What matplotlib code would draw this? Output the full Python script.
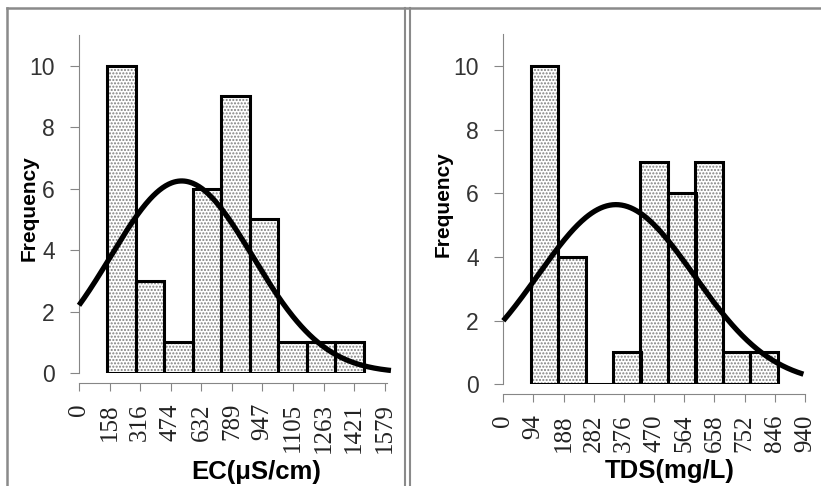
import matplotlib.pyplot as plt
from matplotlib.lines import Line2D
import numpy as np

# EC histogram (bins)
ec_bin_left = [145, 292, 439, 587, 734, 881, 1028, 1175, 1322]
ec_bin_width = 147
ec_counts = [10, 3, 1, 6, 9, 5, 1, 1, 1]
ec_ticks = [0, 158, 316, 474, 632, 789, 947, 1105, 1263, 1421, 1579]
# fitted normal curve: mean, sd, peak height
ec_mean, ec_sd, ec_peak = 530, 367, 6.25

# TDS histogram
tds_bin_left = [85, 171, 256, 342, 427, 513, 598, 684, 770]
tds_bin_width = 86
tds_counts = [10, 4, 0, 1, 7, 6, 7, 1, 1]
tds_ticks = [0, 94, 188, 282, 376, 470, 564, 658, 752, 846, 940]
tds_mean, tds_sd, tds_peak = 351, 243.5, 5.65

W, H = 821, 486
plt.rcParams['hatch.linewidth'] = 1.0
grey = '#868686'

fig = plt.figure(figsize=(W / 100, H / 100), dpi=100)


def panel(rect, left, width, counts, ticks, xmax, mean, sd, peak, xlab, xlab_pos, ylab_pos, curve_end):
    ax = fig.add_axes([rect[0] / W, 1 - rect[3] / H, (rect[2] - rect[0]) / W, (rect[3] - rect[1]) / H])
    # spines first: set_position resets the ticks
    ax.spines['top'].set_visible(False)
    ax.spines['right'].set_visible(False)
    ax.spines['left'].set_color(grey)
    ax.spines['bottom'].set_color(grey)
    ax.spines['bottom'].set_position(('outward', 7.2))
    # dotted fill first, then black outlines on top
    ax.bar(left, counts, width=width, align='edge', color='white', edgecolor='#808080',
           hatch='.....', linewidth=0, zorder=2)
    ax.bar(left, counts, width=width, align='edge', fill=False, edgecolor='black',
           linewidth=2.2, zorder=3)
    xs = np.linspace(0, curve_end, 300)
    ax.plot(xs, peak * np.exp(-(xs - mean) ** 2 / (2 * sd ** 2)), color='black', lw=3.8,
            zorder=4, clip_on=False, solid_capstyle='butt')
    ax.set_xlim(0, xmax)
    ax.set_ylim(0, 11)
    ax.tick_params(axis='y', length=6.5, color=grey, pad=11)
    ax.tick_params(axis='x', length=5.4, color=grey, pad=9)
    ax.set_yticks([0, 2, 4, 6, 8, 10])
    ax.set_yticklabels(['0', '2', '4', '6', '8', '10'], family='Liberation Sans', fontsize=16.5,
                       color='#333333')
    ax.set_xticks(ticks)
    ax.set_xticklabels([str(t) for t in ticks], rotation=90, family='Liberation Serif',
                       fontsize=18, color='#222222')
    fig.text(xlab_pos[0] / W, 1 - xlab_pos[1] / H, xlab, ha='center', va='center',
             family='Liberation Sans', fontweight='bold', fontsize=18.5)
    fig.text(ylab_pos[0] / W, 1 - ylab_pos[1] / H, 'Frequency', ha='center', va='center',
             rotation=90, family='Liberation Sans', fontweight='bold', fontsize=15)
    return ax


panel((79, 35, 386.7, 373), ec_bin_left, ec_bin_width, ec_counts, ec_ticks, 1588,
      ec_mean, ec_sd, ec_peak, 'EC(μS/cm)', (256, 472), (29, 208), 1610)
panel((503.3, 34.5, 805, 384.3), tds_bin_left, tds_bin_width, tds_counts, tds_ticks, 940,
      tds_mean, tds_sd, tds_peak, 'TDS(mg/L)', (670, 471), (443, 204), 935)

# frame lines like the original document
lc = '#8a8a8a'
fig.add_artist(Line2D([6.5 / W, 1], [1 - 8 / H, 1 - 8 / H], color=lc, lw=1.8))
fig.add_artist(Line2D([6.5 / W, 6.5 / W], [0, 1 - 8 / H], color=lc, lw=1.8))
fig.add_artist(Line2D([405 / W, 405 / W], [0, 1 - 8 / H], color=lc, lw=1.5))
fig.add_artist(Line2D([409.5 / W, 409.5 / W], [0, 1 - 8 / H], color=lc, lw=1.5))

plt.savefig('out.png', dpi=100)
